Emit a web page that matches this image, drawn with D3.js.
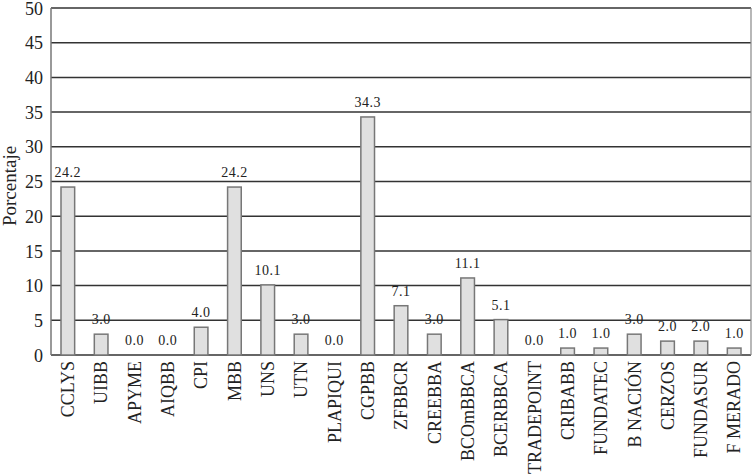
<!DOCTYPE html>
<html>
<head>
<meta charset="utf-8">
<script src="https://cdn.jsdelivr.net/npm/d3@7"></script>
<style>
body { margin: 0; background: #fff; }
svg { display: block; }
text { font-family: "Liberation Serif", "DejaVu Serif", serif; fill: #222; }
</style>
</head>
<body>
<svg width="754" height="474"></svg>
<script>
var categories = ['CCLYS', 'UIBB', 'APYME', 'AIQBB', 'CPI', 'MBB', 'UNS', 'UTN', 'PLAPIQUI', 'CGPBB',
    'ZFBBCR', 'CREEBBA', 'BCOmBBCA', 'BCERBBCA', 'TRADEPOINT', 'CRIBABB', 'FUNDATEC', 'B NACIÓN',
    'CERZOS', 'FUNDASUR', 'F MERADO'];
var values = [24.2, 3.0, 0.0, 0.0, 4.0, 24.2, 10.1, 3.0, 0.0, 34.3,
    7.1, 3.0, 11.1, 5.1, 0.0, 1.0, 1.0, 3.0, 2.0, 2.0, 1.0];
var yTicks = [0, 5, 10, 15, 20, 25, 30, 35, 40, 45, 50];
var yTitle = 'Porcentaje';

var plotLeft = 51, plotRight = 751, plotTop = 8, plotBottom = 355;

var svg = d3.select('svg');

var x = d3.scaleBand()
    .domain(categories)
    .range([plotLeft, plotRight])
    .paddingInner(0.59)
    .paddingOuter(0.3);

var y = d3.scaleLinear()
    .domain([0, 50])
    .range([plotBottom, plotTop]);

// gridlines
svg.append('g')
    .selectAll('line')
    .data(yTicks)
    .enter().append('line')
    .attr('x1', plotLeft)
    .attr('x2', plotRight)
    .attr('y1', function(d) { return y(d); })
    .attr('y2', function(d) { return y(d); })
    .attr('stroke', '#333')
    .attr('stroke-width', 1.5);

// frame sides
svg.append('line')
    .attr('x1', plotLeft).attr('x2', plotLeft)
    .attr('y1', plotTop).attr('y2', plotBottom)
    .attr('stroke', '#777').attr('stroke-width', 1.5);
svg.append('line')
    .attr('x1', plotRight).attr('x2', plotRight)
    .attr('y1', plotTop).attr('y2', plotBottom)
    .attr('stroke', '#888').attr('stroke-width', 1.2);

// y axis labels
var yAxis = d3.axisLeft(y).tickValues(yTicks).tickSize(0).tickPadding(8);
var gy = svg.append('g')
    .attr('transform', 'translate(' + plotLeft + ',0)')
    .call(yAxis);
gy.select('.domain').remove();
gy.selectAll('text')
    .attr('dy', '0.34em')
    .style('font-family', '"Liberation Serif", serif')
    .style('font-size', '18px')
    .attr('fill', '#333');

svg.append('text')
    .attr('transform', 'translate(16,186) rotate(-90)')
    .attr('text-anchor', 'middle')
    .style('font-size', '19px')
    .attr('fill', '#333')
    .text(yTitle);

// bars
svg.append('g')
    .selectAll('rect')
    .data(values)
    .enter().append('rect')
    .attr('x', function(d, i) { return x(categories[i]); })
    .attr('y', function(d) { return y(d); })
    .attr('width', x.bandwidth())
    .attr('height', function(d) { return y(0) - y(d); })
    .attr('fill', '#e0e0e0')
    .attr('stroke', function(d) { return d > 0 ? '#777' : 'none'; })
    .attr('stroke-width', 1.5);

// value labels
svg.append('g')
    .selectAll('text')
    .data(values)
    .enter().append('text')
    .attr('x', function(d, i) { return x(categories[i]) + x.bandwidth() / 2; })
    .attr('y', function(d) { return y(d) - 10; })
    .attr('text-anchor', 'middle')
    .style('font-size', '14px')
    .style('letter-spacing', '0.5px')
    .attr('fill', '#333')
    .text(function(d) { return d.toFixed(1); });

// category labels
var xAxis = d3.axisBottom(x).tickSize(0).tickPadding(0);
var gx = svg.append('g')
    .attr('transform', 'translate(0,' + plotBottom + ')')
    .call(xAxis);
gx.select('.domain').remove();
gx.selectAll('text')
    .attr('transform', 'rotate(-90)')
    .attr('x', -6)
    .attr('y', 0)
    .attr('dy', '0.35em')
    .attr('text-anchor', 'end')
    .style('font-family', '"Liberation Serif", serif')
    .style('font-size', '18px')
    .attr('fill', '#333');
</script>
</body>
</html>
